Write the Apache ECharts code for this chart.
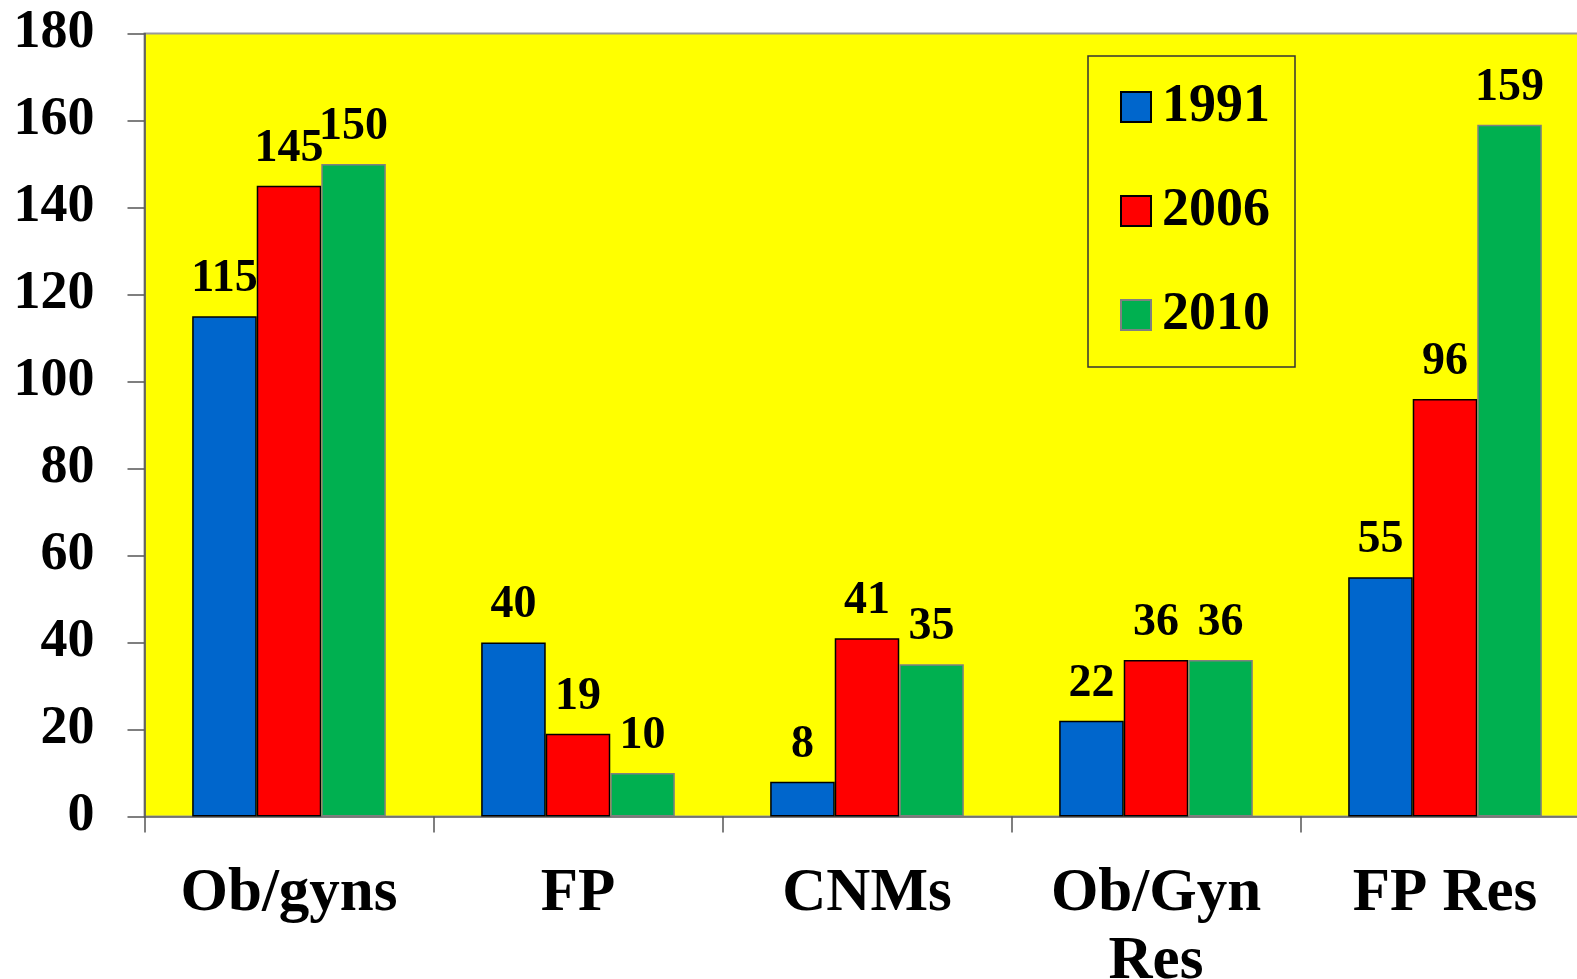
<!DOCTYPE html>
<html>
<head>
<meta charset="utf-8">
<script src="https://cdn.jsdelivr.net/npm/echarts@6/dist/echarts.min.js"></script>
<style>
  html, body { margin: 0; padding: 0; background: #fff; }
  #main { width: 1577px; height: 979px; }
</style>
</head>
<body>
<div id="main"></div>
<script>
var categories = ['Ob/gyns', 'FP', 'CNMs', 'Ob/Gyn\nRes', 'FP Res'];
var years = ['1991', '2006', '2010'];
var values1991 = [115, 40, 8, 22, 55];
var values2006 = [145, 19, 41, 36, 96];
var values2010 = [150, 10, 35, 36, 159];
var yTicks = { min: 0, max: 180, step: 20 };

var font = "'Palatino Linotype', 'Book Antiqua', 'Liberation Serif', serif";
var colors = ['#0066CC', '#FF0000', '#00B050'];
var borders = ['#000000', '#000000', '#808080'];

var myChart = echarts.init(document.getElementById('main'));

function barSeries(i, data) {
  return {
    name: years[i],
    type: 'bar',
    data: data,
    barGap: 0,
    barCategoryGap: '33%',
    itemStyle: { color: colors[i], borderColor: borders[i], borderWidth: 1.5 },
    label: {
      show: true,
      position: 'top',
      distance: 14,
      color: '#000',
      fontFamily: font,
      fontWeight: 'bold',
      fontSize: 46
    }
  };
}

var option = {
  animation: false,
  backgroundColor: '#ffffff',
  grid: {
    left: 144.5,
    top: 33.5,
    width: 1445,
    height: 783,
    outerBoundsMode: 'none',
    containLabel: false,
    show: true,
    backgroundColor: '#FFFF00',
    borderColor: '#999999',
    borderWidth: 2
  },
  legend: {
    orient: 'vertical',
    left: 1088,
    top: 56,
    padding: [24, 25, 25, 32],
    itemGap: 50,
    itemWidth: 30,
    itemHeight: 30,
    selectedMode: false,
    backgroundColor: '#FFFF00',
    borderColor: '#333333',
    borderWidth: 1.5,
    icon: 'rect',
    data: years,
    textStyle: {
      color: '#000',
      fontFamily: font,
      fontWeight: 'bold',
      fontSize: 54,
      padding: [0, 0, 0, 6]
    }
  },
  xAxis: {
    type: 'category',
    data: categories,
    axisLine: { lineStyle: { color: '#666666', width: 1.5 } },
    axisTick: { show: true, length: 16, lineStyle: { color: '#555555', width: 1.5 } },
    axisLabel: {
      interval: 0,
      margin: 44,
      color: '#000',
      fontFamily: font,
      fontWeight: 'bold',
      fontSize: 61,
      lineHeight: 68
    }
  },
  yAxis: {
    type: 'value',
    min: yTicks.min,
    max: yTicks.max,
    interval: yTicks.step,
    splitLine: { show: false },
    axisLine: { show: true, lineStyle: { color: '#555555', width: 1.5 } },
    axisTick: { show: true, length: 17, lineStyle: { color: '#555555', width: 1.5 } },
    axisLabel: {
      margin: 50,
      color: '#000',
      fontFamily: font,
      fontWeight: 'bold',
      fontSize: 54
    }
  },
  series: [
    barSeries(0, values1991),
    barSeries(1, values2006),
    barSeries(2, values2010)
  ]
};
myChart.setOption(option);
</script>
</body>
</html>
